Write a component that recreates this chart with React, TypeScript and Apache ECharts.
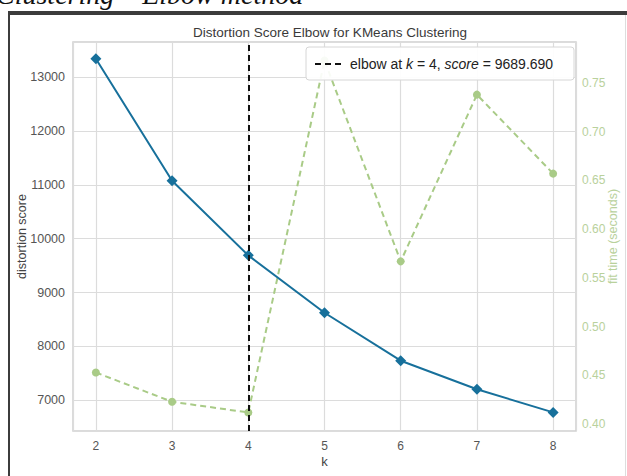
import React, { useEffect, useRef } from "react";
import * as echarts from "echarts";

const kValues = [2, 3, 4, 5, 6, 7, 8];
const distortionScores = [13340, 11075, 9689.69, 8625, 7735, 7205, 6775];
const fitTimes = [0.453, 0.423, 0.412, 0.773, 0.567, 0.738, 0.657];
const elbowK = 4;
const elbowScore = 9689.69;

const FONT = "'Liberation Sans', Arial, sans-serif";
const BLUE = "#17709b";
const GREEN = "#a9cb87";
const GREEN_TEXT = "#b9d19c";

export default function App() {
  const ref = useRef<HTMLDivElement>(null);
  useEffect(() => {
    if (!ref.current) return;
    const chart = echarts.init(ref.current, undefined, { renderer: "svg" });
    const option: any = {
      animation: false,
      backgroundColor: "#ffffff",
      textStyle: { fontFamily: FONT },
      title: {
        text: "Distortion Score Elbow for KMeans Clustering",
        left: 325,
        top: 20,
        textAlign: "center",
        textStyle: { fontFamily: FONT, fontSize: 13.5, fontWeight: "normal", color: "#3a3a3a" },
      },
      grid: {
        left: 73,
        right: 50,
        top: 42,
        bottom: 45,
        show: true,
        borderColor: "#d0d0d0",
        borderWidth: 1.5,
        backgroundColor: "#ffffff",
      },
      xAxis: {
        type: "value",
        min: 1.7,
        max: 8.3,
        splitNumber: 7,
        name: "k",
        nameLocation: "middle",
        nameGap: 24,
        nameMoveOverlap: false,
        nameTextStyle: { fontFamily: FONT, fontSize: 13, color: "#444444" },
        axisLine: { show: false },
        axisTick: { show: false },
        axisLabel: {
          showMinLabel: false,
          showMaxLabel: false,
          margin: 9,
          fontFamily: FONT,
          fontSize: 12,
          color: "#555",
        },
        splitLine: { show: true, lineStyle: { color: "#dcdcdc", width: 1.2 } },
      },
      yAxis: [
        {
          type: "value",
          min: 6430,
          max: 13650,
          splitNumber: 7,
          name: "distortion score",
          nameLocation: "middle",
          nameGap: 45,
          nameMoveOverlap: false,
          nameTextStyle: { fontFamily: FONT, fontSize: 12.5, color: "#444444" },
          axisLine: { show: false },
          axisTick: { show: false },
          axisLabel: {
            showMinLabel: false,
            showMaxLabel: false,
            margin: 8,
            fontFamily: FONT,
            fontSize: 12.5,
            color: "#555",
            formatter: (v: number) => String(Math.round(v)),
          },
          splitLine: { show: true, lineStyle: { color: "#dcdcdc", width: 1.2 } },
        },
        {
          type: "value",
          position: "right",
          min: 0.393,
          max: 0.792,
          splitNumber: 8,
          name: "fit time (seconds)",
          nameLocation: "middle",
          nameGap: 30,
          nameMoveOverlap: false,
          nameTextStyle: { fontFamily: FONT, fontSize: 12.5, color: GREEN_TEXT },
          axisLine: { show: false },
          axisTick: { show: false },
          axisLabel: {
            showMinLabel: false,
            showMaxLabel: false,
            margin: 6,
            fontFamily: FONT,
            fontSize: 12,
            color: GREEN_TEXT,
            formatter: (v: number) => v.toFixed(2),
          },
          splitLine: { show: false },
        },
      ],
      series: [
        {
          type: "line",
          name: "fit time",
          yAxisIndex: 1,
          data: kValues.map((k, i) => [k, fitTimes[i]]),
          symbol: "circle",
          symbolSize: 8,
          itemStyle: { color: GREEN },
          lineStyle: { color: GREEN, width: 2, type: [6, 4] },
          z: 2,
        },
        {
          type: "line",
          name: "distortion",
          yAxisIndex: 0,
          data: kValues.map((k, i) => [k, distortionScores[i]]),
          symbol: "diamond",
          symbolSize: 11,
          itemStyle: { color: BLUE },
          lineStyle: { color: BLUE, width: 2 },
          z: 3,
          markLine: {
            silent: true,
            symbol: "none",
            label: { show: false },
            lineStyle: { color: "#111", width: 2, type: [6, 4] },
            data: [{ xAxis: elbowK }],
            z: 4,
          },
        },
      ],
      graphic: [
        {
          type: "text",
          left: -4,
          top: -20,
          style: {
            text: "Clustering \u2013 Elbow method",
            font: "italic 28px 'Liberation Serif', 'DejaVu Serif', serif",
            fill: "#111",
          },
          z: 1,
        },
        { type: "rect", shape: { x: 8, y: 11, width: 619, height: 4 }, style: { fill: "#3c3c3c" }, z: 5 },
        { type: "rect", shape: { x: 8, y: 11, width: 2, height: 465 }, style: { fill: "#3c3c3c" }, z: 5 },
        { type: "rect", shape: { x: 625, y: 15, width: 1, height: 461 }, style: { fill: "#dddddd" }, z: 5 },
        {
          type: "rect",
          shape: { x: 306, y: 47, width: 268, height: 33, r: 3 },
          style: { fill: "rgba(255,255,255,0.92)", stroke: "#d6d6d6", lineWidth: 1 },
          z: 20,
        },
        {
          type: "line",
          shape: { x1: 315, y1: 64, x2: 341, y2: 64 },
          style: { stroke: "#111", lineWidth: 2, lineDash: [6, 4] },
          z: 21,
        },
        {
          type: "text",
          x: 350,
          y: 64,
          style: {
            text: "{n|elbow at }{i|k}{n| = " + elbowK + ", }{i|score}{n| = " + elbowScore.toFixed(3) + "}",
            verticalAlign: "middle",
            rich: {
              n: { fontFamily: FONT, fontSize: 14, fill: "#222", color: "#222" },
              i: { fontFamily: FONT, fontSize: 14, fontStyle: "italic", fill: "#222", color: "#222" },
            },
          },
          z: 21,
        },
      ],
    };
    chart.setOption(option);
    return () => chart.dispose();
  }, []);
  return (
    <div
      ref={ref}
      style={{ position: "absolute", left: 0, top: 0, width: 627, height: 476 }}
    />
  );
}
